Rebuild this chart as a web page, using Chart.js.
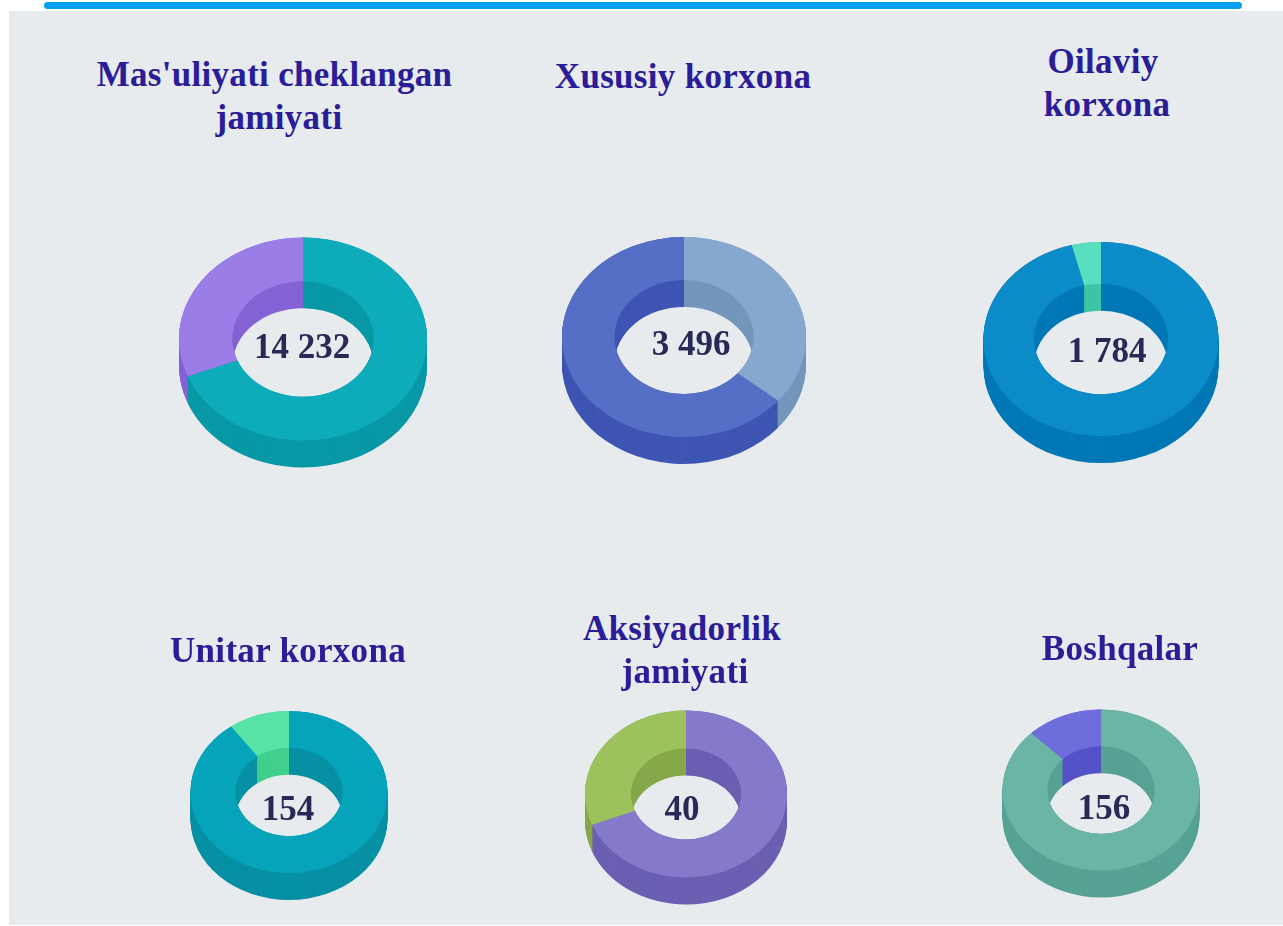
<!DOCTYPE html>
<html>
<head>
<meta charset="utf-8">
<script src="https://cdn.jsdelivr.net/npm/chart.js@4"></script>
<style>
html,body{margin:0;padding:0;background:#fff;overflow:hidden;width:1283px;height:926px}
#bar{position:absolute;left:44px;top:2px;width:1198px;height:7px;border-radius:4px;background:#03a0ee}
#panel{position:absolute;left:9px;top:11px;width:1274px;height:914px;background:#e7ebee}
canvas{position:absolute}
.t{position:absolute;white-space:nowrap;transform:translate(-50%,-50%);font-family:"Liberation Serif",serif;font-weight:bold}
.title{font-size:35px;letter-spacing:0.3px;color:#2a1d97}
.val{font-size:35px;color:#262a55}
</style>
</head>
<body>
<div id="bar"></div>
<div id="panel"></div>
<script>
// Data
const titles = [
  ["Mas'uliyati cheklangan", "jamiyati"],
  ["Xususiy korxona"],
  ["Oilaviy", "korxona"],
  ["Unitar korxona"],
  ["Aksiyadorlik", "jamiyati"],
  ["Boshqalar"]
];
const totals = ["14 232", "3 496", "1 784", "154", "40", "156"];
const mainShare = [69, 36, 96, 90, 69, 87.5];
const otherShare = [31, 64, 4, 10, 31, 12.5];

// Styling and layout
const topColors = [
  ["#0eabbb", "#9b7de8"], ["#86a8cf", "#566fc6"], ["#0b8bc8", "#57dfc0"],
  ["#06a4bb", "#58e4a8"], ["#8579cc", "#9cc25e"], ["#6bb5a6", "#6f6cdc"]
];
const wallColors = [
  ["#0898a6", "#8563d4"], ["#7396bb", "#3f55b3"], ["#0178b5", "#3dc5a5"],
  ["#0790a4", "#41cf8e"], ["#6b5fb2", "#86a84a"], ["#56a294", "#5552c8"]
];
const layout = [
  {cx:302.5, cy:338.5, rx:124,   ry:101.5, hole:57},
  {cx:684,   cy:337,   rx:122,   ry:100,   hole:57},
  {cx:1101,  cy:339,   rx:117.5, ry:97,    hole:57},
  {cx:288.5, cy:792,   rx:98.5,  ry:81,    hole:54.5},
  {cx:686,   cy:793.5, rx:101,   ry:83.5,  hole:54.5},
  {cx:1101,  cy:789.5, rx:98.5,  ry:80.5,  hole:54.5}
];
const depth = 27;
const titlePos = [
  [[274.5,75],[279,118]], [[683,77]], [[1103,62],[1107,105]],
  [[288,651]], [[682,629],[685,672]], [[1120,649]]
];
const valPos = [[302,347],[691,344],[1107,351],[288,809],[682,809],[1104,808]];

function addText(cls, text, p){
  const d = document.createElement('div');
  d.className = 't ' + cls;
  d.textContent = text;
  d.style.left = p[0] + 'px';
  d.style.top = p[1] + 'px';
  document.body.appendChild(d);
}

const extrude = {
  id: 'extrude',
  beforeDatasetsDraw(chart, args, opts){
    const ctx = chart.ctx, arcs = chart.getDatasetMeta(0).data;
    const {x, y} = arcs[0].getProps(['x','y'], true);
    ctx.save();
    ctx.translate(x, y);
    ctx.scale(1, opts.k);
    ctx.translate(-x, -y);
    for (let d = opts.depth; d >= 0; d--) {
      arcs.forEach((arc, i) => {
        const a = arc.getProps(['x','y','startAngle','endAngle','innerRadius','outerRadius'], true);
        const oy = a.y + d / opts.k;
        ctx.beginPath();
        ctx.arc(a.x, oy, a.outerRadius, a.startAngle, a.endAngle);
        ctx.arc(a.x, oy, a.innerRadius, a.endAngle, a.startAngle, true);
        ctx.closePath();
        ctx.fillStyle = opts.walls[i];
        ctx.fill();
      });
    }
  },
  afterDatasetsDraw(chart){ chart.ctx.restore(); }
};

layout.forEach((g, i) => {
  const H = Math.ceil(g.rx) + 4;
  const cv = document.createElement('canvas');
  cv.width = 2 * H; cv.height = 2 * H + 2 * depth + 10;
  cv.style.left = (g.cx - H) + 'px';
  cv.style.top = (g.cy - cv.height / 2) + 'px';
  document.body.appendChild(cv);
  new Chart(cv, {
    type: 'doughnut',
    data: {
      labels: ['A', 'B'],
      datasets: [{
        data: [mainShare[i], otherShare[i]],
        backgroundColor: topColors[i],
        borderWidth: 0,
        clip: false
      }]
    },
    options: {
      responsive: false,
      animation: false,
      cutout: g.hole + '%',
      layout: {padding: {left: H - g.rx, right: H - g.rx, top: 0, bottom: 0}},
      plugins: {
        legend: {display: false},
        tooltip: {enabled: false},
        extrude: {k: g.ry / g.rx, depth: depth, walls: wallColors[i]}
      }
    },
    plugins: [extrude]
  });
  titles[i].forEach((line, j) => addText('title', line, titlePos[i][j]));
  addText('val', totals[i], valPos[i]);
});
</script>
</body>
</html>
